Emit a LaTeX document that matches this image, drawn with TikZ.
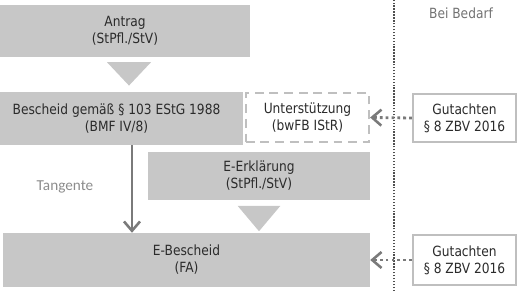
\documentclass[tikz,border=0pt]{standalone}
\usepackage{fontspec}
\setmainfont{DejaVu Sans}[FakeStretch=0.87]
\newfontfamily\tangfont{Carlito}
\usetikzlibrary{arrows.meta,calc}
\definecolor{BoxGray}{HTML}{C7C7C7}
\definecolor{TextGray}{HTML}{2B2B2B}
\definecolor{FrameGray}{HTML}{BFBFBF}
\definecolor{ArrowGray}{HTML}{7A7A7A}
\definecolor{SepGray}{HTML}{4F4F4F}
\definecolor{LabelGray}{HTML}{8C8C8C}
\tikzset{
  graybox/.style={rectangle, fill=BoxGray, text=TextGray, align=center, inner sep=2pt, font=\fontsize{12}{14.5}\selectfont},
  dashbox/.style={rectangle, draw=FrameGray, fill=white, line width=1.6pt, dash pattern=on 7.5pt off 5pt, text=TextGray, align=center, inner sep=2pt, font=\fontsize{12}{14.5}\selectfont},
  framebox/.style={rectangle, draw=FrameGray, fill=white, line width=1.6pt, text=TextGray, align=center, inner sep=2pt, font=\fontsize{12}{14.5}\selectfont},
  dotarrow/.style={-{Straight Barb[length=2.8mm,width=4.8mm,line width=2.2pt]}, line width=2.4pt, draw=ArrowGray, dash pattern=on 2.4pt off 2.6pt},
  tangarrow/.style={-{Straight Barb[length=2.8mm,width=4.8mm,line width=2.2pt]}, line width=2.4pt, draw=ArrowGray},
  blockarrow/.style={fill=BoxGray},
}

\begin{document}
\begin{tikzpicture}[x=1cm,y=1cm]
\path[use as bounding box] (0,0) rectangle (15.54,8.73);

% separator and heading
\draw[SepGray,line width=1.2pt,dash pattern=on 1.2pt off 1.3pt] (11.82,0) -- (11.82,8.73);
\node[text=SepGray!80,font=\fontsize{12}{14.5}\selectfont] (bedarf) at (13.83,8.34) {Bei Bedarf};

% main flow
\node[graybox,minimum width=7.5cm,minimum height=1.56cm] (antrag) at (3.75,7.80) {Antrag\\(StPfl./StV)};
\node[graybox,minimum width=7.29cm,minimum height=1.59cm] (bescheid) at (3.645,5.175) {Bescheid gemäß § 103 EStG 1988\hspace*{0.3cm}\\(BMF IV/8)\hspace*{0.3cm}};
\node[dashbox,minimum width=3.7cm,minimum height=1.48cm] (unterst) at (9.225,5.205) {Unterstützung\\(bwFB IStR)};
\node[framebox,minimum width=3.1cm,minimum height=1.45cm] (gut1) at (13.935,5.19) {Gutachten\\§ 8 ZBV 2016};
\node[graybox,minimum width=6.66cm,minimum height=1.44cm] (erkl) at (7.77,3.45) {E-Erklärung\\(StPfl./StV)};
\node[graybox,minimum width=11.01cm,minimum height=1.62cm] (ebescheid) at (5.595,0.93) {E-Bescheid\\(FA)};
\node[framebox,minimum width=3.1cm,minimum height=1.5cm] (gut2) at (13.935,0.93) {Gutachten\\§ 8 ZBV 2016};

% block arrows
\fill[blockarrow] ($(antrag.south)+(-0.54,-0.15)$) -- ($(antrag.south)+(0.78,-0.15)$) -- ($(antrag.south)+(0.12,-0.85)$) -- cycle;
\fill[blockarrow] ($(erkl.south)+(-0.64,-0.17)$) -- ($(erkl.south)+(0.64,-0.17)$) -- ($(erkl.south)+(0,-0.93)$) -- cycle;

% Tangente
\coordinate (tx) at (3.96,0);
\draw[tangarrow] (bescheid.south -| tx) -- (ebescheid.north -| tx);
\node[text=LabelGray,font=\tangfont\fontsize{13}{15}\selectfont] (tang) at (1.95,3.12) {Tangente};

% Gutachten
\draw[dotarrow] (gut1.west) -- (unterst.east);
\draw[dotarrow] (gut2.west) -- (ebescheid.east);
\end{tikzpicture}
\end{document}
